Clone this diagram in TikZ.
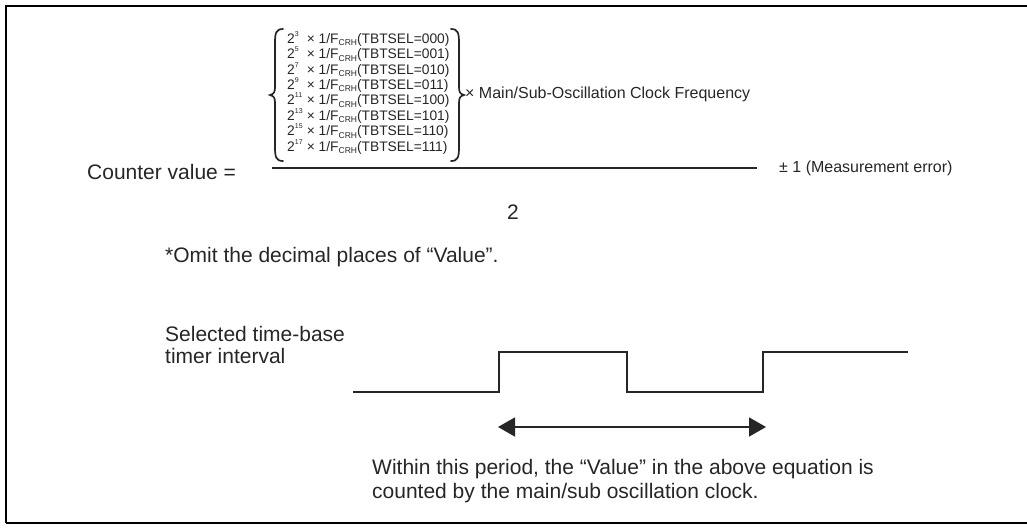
\documentclass[tikz,border=0pt]{standalone}
\usepackage{fontspec}
\setmainfont{Liberation Sans}
\usetikzlibrary{arrows.meta}
\newcommand\twoexp[1]{\makebox[1.42em][l]{2\smash{\raisebox{0.5em}{\fontsize{7}{7}\selectfont #1}}}}
\newcommand\frh{1/F\smash{\raisebox{-0.18em}{\fontsize{8.5}{8.5}\selectfont CRH}}}
\begin{document}
\begin{tikzpicture}[x=1pt,y=-1pt,
  big/.style={font=\fontsize{21}{22}\selectfont, inner sep=0pt, text=black!85},
  mid/.style={font=\fontsize{16}{18}\selectfont, inner sep=0pt, text=black!85},
  small/.style={font=\fontsize{13.8}{15.4}\selectfont, inner sep=0pt, text=black!85},
  wire/.style={line width=1.5pt, black!85},
  brace/.style={line width=1.7pt, black!85, line cap=round}]
\useasboundingbox (0,0) rectangle (1027,528);
% frame
\draw[line width=2.5pt] (1040,6) -- (6,6) -- (6,523);
\draw[line width=1.8pt] (6,523) -- (1040,523);
% equation cases
\node[small, anchor=north west, align=left] (cases) at (287,33) {%
\twoexp{3}× \frh(TBTSEL=000)\\
\twoexp{5}× \frh(TBTSEL=001)\\
\twoexp{7}× \frh(TBTSEL=010)\\
\twoexp{9}× \frh(TBTSEL=011)\\
\twoexp{11}× \frh(TBTSEL=100)\\
\twoexp{13}× \frh(TBTSEL=101)\\
\twoexp{15}× \frh(TBTSEL=110)\\
\twoexp{17}× \frh(TBTSEL=111)};
% braces
\draw[brace] (283,29) .. controls (276,29) and (275,33) .. (275,43) -- (275,87)
  .. controls (275,92) and (274,94) .. (270,95) .. controls (274,96) and (275,98) .. (275,103)
  -- (275,147) .. controls (275,157) and (276,161) .. (283,161);
\draw[brace] (451,29) .. controls (458,29) and (459,33) .. (459,43) -- (459,87)
  .. controls (459,92) and (460,94) .. (464,95) .. controls (460,96) and (459,98) .. (459,103)
  -- (459,147) .. controls (459,157) and (458,161) .. (451,161);
\node[mid, anchor=west] (freq) at (465,94) {× Main/Sub-Oscillation Clock Frequency};
% fraction
\coordinate (fl) at (272,168);
\coordinate (fr) at (757,168);
\draw[line width=1.3pt, black!85] (fl) -- (fr);
\node[big, anchor=west] (cv) at (87,172) {Counter value =};
\node[mid, anchor=west] (err) at (779,168) {± 1 (Measurement error)};
\node[big] (den) at (513,212) {2};
\node[big, anchor=west] (omit) at (165,257) {*Omit the decimal places of “Value”.};
% timing
\node[big, anchor=north west, align=left, font=\fontsize{21}{22.5}\selectfont] (sel) at (165,326) {Selected time-base\\timer interval};
\coordinate (w0) at (353,392);
\coordinate (w1) at (499,392);
\coordinate (w2) at (499,352);
\coordinate (w3) at (627,352);
\coordinate (w4) at (627,392);
\coordinate (w5) at (763,392);
\coordinate (w6) at (763,352);
\coordinate (w7) at (908,352);
\draw[wire] (w0) -- (w1) -- (w2) -- (w3) -- (w4) -- (w5) -- (w6) -- (w7);
\coordinate (a0) at (498,427);
\coordinate (a1) at (766,427);
\draw[wire, {Triangle[length=17pt,width=19pt]}-{Triangle[length=17pt,width=19pt]}] (a0) -- (a1);
\node[big, anchor=north west, align=left, font=\fontsize{21}{24}\selectfont] (note) at (372,459) {Within this period, the “Value” in the above equation is\\counted by the main/sub oscillation clock.};
\end{tikzpicture}
\end{document}
